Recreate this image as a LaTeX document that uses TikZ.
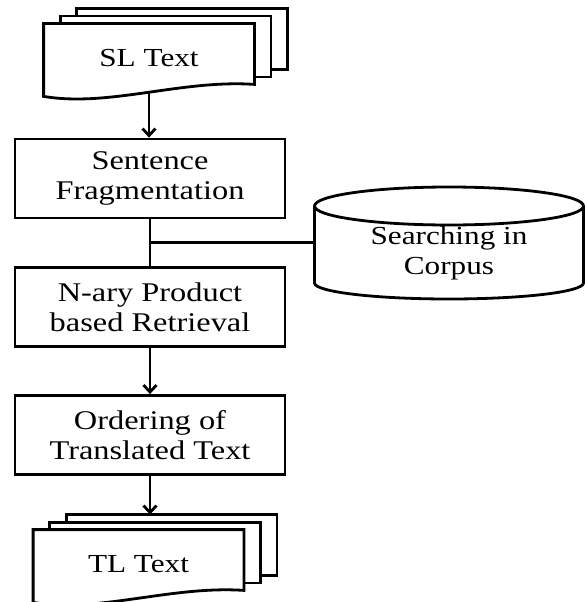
\documentclass[tikz,border=0pt]{standalone}
\usepackage{fontspec}
\setmainfont[FakeStretch=1.2]{Liberation Serif}
\usetikzlibrary{arrows.meta,calc,backgrounds}

\begin{document}
\begin{tikzpicture}
    [x=1pt,y=1pt,every path/.append style={line width=2.8pt},
     process/.style={draw,rectangle,minimum width=270pt,minimum height=79pt,
       align=center,font=\fontsize{27}{30}\selectfont},
     doc/.style={minimum width=208pt,minimum height=67pt,inner sep=0pt,
       font=\fontsize{26}{30}\selectfont},
     page/.style={draw,fill=white},
     flow/.style={-{Straight Barb[length=7pt,width=13pt]}}]

    \useasboundingbox (0,0) rectangle (585,-602);

    % source text:
    \node (sl) at (149,-58.5) [doc] {SL Text};

    % processing steps:
    \node (frag) at (150,-178.5) [process] {Sentence\\Fragmentation};
    \node (retr) at (150,-307) [process] {N-ary Product\\based Retrieval};
    \node (order) at (150,-435) [process] {Ordering of\\Translated Text};

    % corpus:
    \node (corpus) at (449,-253) [minimum width=269pt,align=center,
      font=\fontsize{26}{30}\selectfont] {Searching in\\Corpus};

    % target text:
    \node (tl) at (138.5,-564.5) [doc] {TL Text};

    % paper stacks behind both texts:
    \begin{scope}[on background layer]
      \foreach \stack in {sl,tl} {
        \foreach \k in {2,1}
          \draw [page] ([shift={(16.5*\k,7.5*\k)}]\stack.north west)
            rectangle ([shift={(16.5*\k,7.5*\k+9)}]\stack.south east);
        \draw [page] ([yshift=-3pt]\stack.south west) -- (\stack.north west)
          -- (\stack.north east) -- ([yshift=9pt]\stack.south east)
          .. controls +(-73,5) and +(65,-11) .. ([yshift=-3pt]\stack.south west)
          -- cycle;
      }
    \end{scope}

    % drum round the corpus:
    \draw (314.5,-206) -- (314.5,-283)
      arc [start angle=180,end angle=360,x radius=134.5,y radius=16]
      -- (583.5,-206);
    \draw (449,-206) ellipse [x radius=134.5,y radius=19];

    % connect nodes:
    \coordinate (split) at ($(frag.south)!0.5!(retr.north)$);
    \coordinate (tltop) at ([yshift=15pt]tl.north);

    \draw [flow] (sl.south) -- (sl.south |- frag.north);
    \draw (frag.south) -- (retr.north);
    \draw (split) -- (split -| corpus.west);
    \draw [flow] (retr) -- (order);
    \draw [flow] (order.south) -- (order.south |- tltop);

  \end{tikzpicture}
\end{document}
